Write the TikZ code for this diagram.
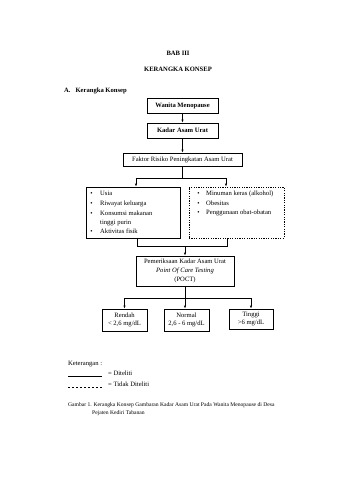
\documentclass[tikz,border=0pt]{standalone}
\usepackage{fontspec}
\setmainfont{Liberation Serif}
\usetikzlibrary{arrows.meta}
\begin{document}
\begin{tikzpicture}[x=1pt,y=-1pt,
  txt/.style={font=\fontsize{6.6}{7.8}\selectfont, inner sep=0pt},
  small/.style={font=\fontsize{5.6}{6.6}\selectfont, inner sep=0pt},
  box/.style={draw, line width=0.6pt, inner sep=0pt, align=center, font=\fontsize{6.6}{8.6}\selectfont},
  dbox/.style={box, dash pattern=on 1.2pt off 1.2pt},
  conn/.style={line width=0.6pt},
  arr/.style={line width=0.6pt, -{Latex[length=3pt,width=2.2pt]}}]
\useasboundingbox (0,0) rectangle (339,480);
% headings
\node[txt, font=\fontsize{6.6}{7.8}\selectfont\bfseries] (bab) at (178,53) {BAB III};
\node[txt, font=\fontsize{6.6}{7.8}\selectfont\bfseries] (ker) at (178,69) {KERANGKA KONSEP};
\node[txt, font=\fontsize{6.6}{7.8}\selectfont\bfseries, anchor=west] (secA) at (64,91) {A.\hspace{5pt}Kerangka Konsep};
% boxes
\node[box, minimum width=71pt, minimum height=15pt, font=\fontsize{6.6}{7.8}\selectfont\bfseries] (wan) at (182.5,105.5) {Wanita Menopause};
\node[box, minimum width=71pt, minimum height=15pt, font=\fontsize{6.6}{7.8}\selectfont\bfseries] (kad) at (182.5,130.5) {Kadar Asam Urat};
\node[box, minimum width=119pt, minimum height=13pt] (fak) at (182.5,159.5) {Faktor Risiko Peningkatan Asam Urat};
\node[box, minimum width=94pt, minimum height=51pt] (lft) at (133,212.5) {};
\node[dbox, minimum width=95pt, minimum height=51pt] (rgt) at (236.5,212.5) {};
\node[box, minimum width=98pt, minimum height=30pt] (poct) at (185,271) {Pemeriksaan Kadar Asam Urat\\\textit{Point Of Care Testing}\\(POCT)};
\node[box, minimum width=45pt, minimum height=22pt] (ren) at (124.5,320) {Rendah\\{<} 2,6 mg/dL};
\node[box, minimum width=45pt, minimum height=22pt] (nor) at (186.5,320) {Normal\\2,6 - 6 mg/dL};
\node[box, minimum width=44pt, minimum height=20pt] (tin) at (251,319) {Tinggi\\{>}6 mg/dL};
% left list
\foreach \y/\t [count=\i] in {195/Usia,205/Riwayat keluarga,215/Konsumsi makanan,233/Aktivitas fisik}{
  \node[txt, anchor=base] (lb\i) at (91.5,\y) {\textbullet};
  \node[txt, anchor=base west] (lt\i) at (100,\y) {\t};
}
\node[txt, anchor=base west] (lt5) at (100,224) {tinggi purin};
% right list
\foreach \y/\t [count=\i] in {195/Minuman keras (alkohol),205/Obesitas,214/Penggunaan obat-obatan}{
  \node[txt, anchor=base] (rb\i) at (198.5,\y) {\textbullet};
  \node[txt, anchor=base west] (rt\i) at (206,\y) {\t};
}
% connectors
\draw[arr] (wan) -- (kad);
\draw[arr] (kad) -- (fak);
\coordinate (j1) at (182.5,178);
\coordinate (j1l) at (136,178);
\coordinate (j1r) at (226,178);
\draw[conn] (fak.south) -- (j1);
\draw[conn] (j1l) -- (j1r);
\draw[arr] (j1l) -- (j1l |- lft.north);
\draw[arr] (j1r) -- (j1r |- rgt.north);
\coordinate (j2l) at (137,246);
\coordinate (j2r) at (227,246);
\coordinate (j2) at (185,246);
\draw[conn] (j2l |- lft.south) -- (j2l) -- (j2r) -- (j2r |- rgt.south);
\draw[arr] (j2) -- (poct.north);
\coordinate (j3) at (185,298);
\coordinate (j3l) at (124.5,298);
\coordinate (j3r) at (251,298);
\draw[conn] (poct.south) -- (j3);
\draw[conn] (j3l) -- (j3r);
\draw[arr] (j3l) -- (ren.north);
\draw[arr] (j3) -- (j3 |- nor.north);
\draw[arr] (j3r) -- (tin.north);
% legend
\node[txt, anchor=west] (ket) at (68,364) {Keterangan :};
\coordinate (s1) at (68,376);
\coordinate (s2) at (102,376);
\draw[conn] (s1) -- (s2);
\node[txt, anchor=west] (dit) at (108,373.5) {= Diteliti};
\coordinate (d1) at (68,387);
\coordinate (d2) at (102,387);
\draw[conn, dash pattern=on 2pt off 2pt] (d1) -- (d2);
\node[txt, anchor=west] (tdit) at (108,384) {= Tidak Diteliti};
% caption
\node[small, anchor=west] (cap1) at (68,405) {Gambar 1. Kerangka Konsep Gambaran Kadar Asam Urat Pada Wanita Menopause di Desa};
\node[small, anchor=west] (cap2) at (92,413) {Pejaten Kediri Tabanan};
\end{tikzpicture}
\end{document}
